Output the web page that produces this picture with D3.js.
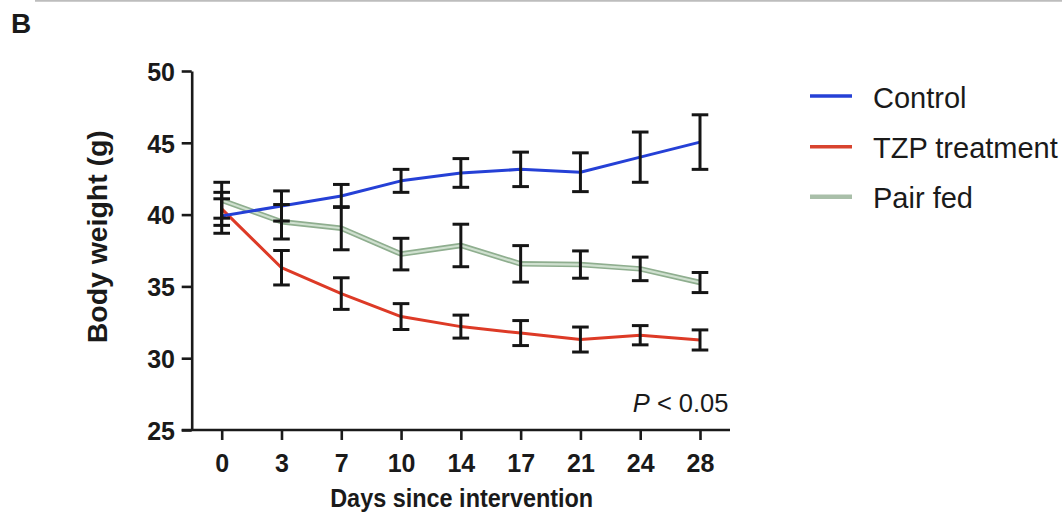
<!DOCTYPE html>
<html>
<head>
<meta charset="utf-8">
<script src="https://cdn.jsdelivr.net/npm/d3@7"></script>
<style>
  html, body { margin: 0; padding: 0; background: #fff; }
  svg { display: block; }
  text { font-family: "Liberation Sans", Arial, Helvetica, sans-serif; fill: #1a1a1a; }
</style>
</head>
<body>
<svg id="chart" width="1062" height="515"></svg>
<script>
// ---- data ----
const days = ["0", "3", "7", "10", "14", "17", "21", "24", "28"];
const controlMean = [39.9, 40.6, 41.3, 42.35, 42.9, 43.15, 42.95, 44.0, 45.05];
const controlSem  = [1.2, 1.05, 0.8, 0.8, 1.0, 1.2, 1.35, 1.75, 1.9];
const tzpMean     = [40.4, 36.3, 34.5, 32.9, 32.2, 31.75, 31.3, 31.6, 31.27];
const tzpSem      = [1.15, 1.2, 1.1, 0.9, 0.8, 0.87, 0.87, 0.67, 0.7];
const pairMean    = [41.0, 39.5, 39.05, 37.25, 37.85, 36.57, 36.52, 36.22, 35.27];
const pairSem     = [1.25, 1.2, 1.5, 1.1, 1.48, 1.27, 0.95, 0.82, 0.7];
const yTicks = [25, 30, 35, 40, 45, 50];
const seriesNames = ["Control", "TZP treatment", "Pair fed"];
const panelLabel = "B";
const xTitle = "Days since intervention";
const yTitle = "Body weight (g)";

// ---- layout ----
const svg = d3.select("#chart");
const x = d3.scalePoint().domain(days).range([221.7, 700]).padding(0);
const y = d3.scaleLinear().domain([25, 50]).range([430, 71]);
const axisLeftX = 191.7, axisRightX = 730, axisStartX = 181.7;

// top divider line and panel label
svg.append("line").attr("x1", 35).attr("x2", 1062).attr("y1", 0.8).attr("y2", 0.8)
  .attr("stroke", "#bdbdbd").attr("stroke-width", 2);
svg.append("text").attr("x", 11).attr("y", 33).attr("font-size", 28).attr("font-weight", "bold")
  .attr("fill", "#333").text(panelLabel);

// y axis
const gy = svg.append("g").attr("transform", `translate(${axisLeftX},0)`)
  .call(d3.axisLeft(y).tickValues(yTicks).tickSize(10).tickSizeOuter(0).tickPadding(6.7));
gy.select(".domain").attr("stroke", "#1a1a1a").attr("stroke-width", 2.6);
gy.selectAll(".tick line").attr("stroke", "#1a1a1a").attr("stroke-width", 2.6);
gy.selectAll(".tick text").attr("font-size", 25).attr("font-weight", "bold")
  .attr("font-family", "Liberation Sans, Arial, sans-serif").attr("fill", "#1a1a1a").attr("dy", "0.37em");

// x axis
const gx = svg.append("g").attr("transform", `translate(0,${y(25)})`)
  .call(d3.axisBottom(x).tickSize(10).tickSizeOuter(0));
gx.select(".domain").attr("d", `M${axisStartX},0H${axisRightX}`)
  .attr("stroke", "#1a1a1a").attr("stroke-width", 2.6);
gx.selectAll(".tick line").attr("stroke", "#1a1a1a").attr("stroke-width", 2.6);
gx.selectAll(".tick text").attr("font-size", 25).attr("font-weight", "bold")
  .attr("font-family", "Liberation Sans, Arial, sans-serif").attr("fill", "#1a1a1a")
  .attr("y", 41.5).attr("dy", 0);

// axis titles
svg.append("text").attr("x", 461.7).attr("y", 506.7).attr("text-anchor", "middle")
  .attr("font-size", 25).attr("font-weight", "bold")
  .attr("textLength", 263).attr("lengthAdjust", "spacingAndGlyphs").text(xTitle);
svg.append("text").attr("transform", "translate(106.5,236.7) rotate(-90)")
  .attr("text-anchor", "middle").attr("font-size", 28).attr("font-weight", "bold")
  .attr("textLength", 213).attr("lengthAdjust", "spacingAndGlyphs").text(yTitle);

// lines
const series = [
  { name: seriesNames[0], mean: controlMean, sem: controlSem, color: "#2540d6" },
  { name: seriesNames[1], mean: tzpMean, sem: tzpSem, color: "#dd3a26" },
  { name: seriesNames[2], mean: pairMean, sem: pairSem, color: "#a9c2a9" }
];
const line = d3.line().x((d, i) => x(days[i])).y(d => y(d));

// pair fed: banded look
svg.append("path").attr("d", line(pairMean)).attr("fill", "none")
  .attr("stroke", "#8fae8f").attr("stroke-width", 5.5).attr("stroke-linejoin", "round");
svg.append("path").attr("d", line(pairMean)).attr("fill", "none")
  .attr("stroke", "#cfe0cf").attr("stroke-width", 2.2).attr("stroke-linejoin", "round");
svg.append("path").attr("d", line(tzpMean)).attr("fill", "none")
  .attr("stroke", series[1].color).attr("stroke-width", 3).attr("stroke-linejoin", "round");
svg.append("path").attr("d", line(controlMean)).attr("fill", "none")
  .attr("stroke", series[0].color).attr("stroke-width", 3).attr("stroke-linejoin", "round");

// error bars
const capHalf = 8.3;
series.forEach(s => {
  const g = svg.append("g").attr("stroke", "#151515").attr("stroke-width", 3).attr("fill", "none");
  s.mean.forEach((m, i) => {
    const cx = x(days[i]);
    const top = y(m + s.sem[i]), bot = y(m - s.sem[i]);
    g.append("line").attr("x1", cx).attr("x2", cx).attr("y1", top).attr("y2", bot);
    g.append("line").attr("x1", cx - capHalf).attr("x2", cx + capHalf).attr("y1", top).attr("y2", top);
    g.append("line").attr("x1", cx - capHalf).attr("x2", cx + capHalf).attr("y1", bot).attr("y2", bot);
  });
});

// P value
const pt = svg.append("text").attr("x", 728.5).attr("y", 411.7).attr("text-anchor", "end")
  .attr("font-size", 25.5);
pt.append("tspan").attr("font-style", "italic").text("P");
pt.append("tspan").text(" < 0.05");

// legend
const legendY = [96, 146.7, 196.7];
const legendColors = ["#2540d6", "#d8432e", "#a9bfa9"];
series.forEach((s, i) => {
  svg.append("line").attr("x1", 810).attr("x2", 852).attr("y1", legendY[i]).attr("y2", legendY[i])
    .attr("stroke", legendColors[i]).attr("stroke-width", i === 2 ? 4.5 : 3.5);
  svg.append("text").attr("x", 873).attr("y", legendY[i] + 11.5).attr("font-size", 29)
    .attr("fill", "#1a1a1a").text(s.name);
});
</script>
</body>
</html>
